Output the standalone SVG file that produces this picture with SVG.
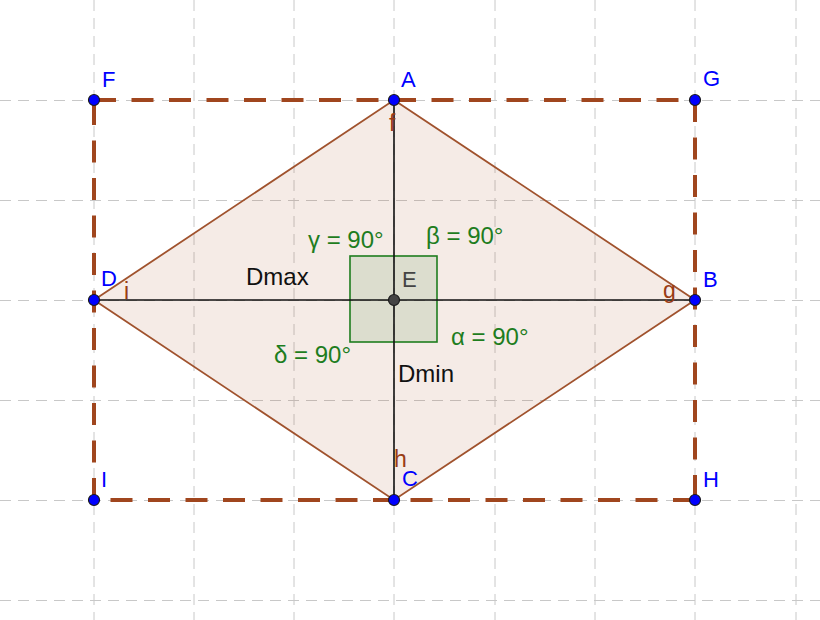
<svg xmlns="http://www.w3.org/2000/svg" width="820" height="620" viewBox="0 0 820 620">
<style>
.grid{stroke:#c8c8c8;stroke-width:1;stroke-dasharray:11 7;fill:none}
.rect{stroke:#a0461e;stroke-width:4;stroke-dasharray:22 15.5;fill:none}
.pt{fill:#0000ff;stroke:#1a1a1a;stroke-width:1.2}
.lbl{font-family:"Liberation Sans",Arial,sans-serif;font-size:22px;fill:#0000ff}
.sm{font-family:"Liberation Sans",Arial,sans-serif;font-size:23px;fill:#993c14}
.ang{font-family:"Liberation Sans",Arial,sans-serif;font-size:24px;fill:#1e7d1e}
.blk{font-family:"Liberation Sans",Arial,sans-serif;font-size:24px;fill:#111}
</style>
<rect width="820" height="620" fill="#ffffff"/>
<g id="grid">
<line class="grid" x1="94" y1="0" x2="94" y2="620"/>
<line class="grid" x1="194" y1="0" x2="194" y2="620"/>
<line class="grid" x1="294" y1="0" x2="294" y2="620"/>
<line class="grid" x1="394" y1="0" x2="394" y2="620"/>
<line class="grid" x1="495" y1="0" x2="495" y2="620"/>
<line class="grid" x1="595" y1="0" x2="595" y2="620"/>
<line class="grid" x1="695" y1="0" x2="695" y2="620"/>
<line class="grid" x1="796" y1="0" x2="796" y2="620"/>
<line class="grid" x1="0" y1="100.5" x2="820" y2="100.5"/>
<line class="grid" x1="0" y1="200.5" x2="820" y2="200.5"/>
<line class="grid" x1="0" y1="300.5" x2="820" y2="300.5"/>
<line class="grid" x1="0" y1="400.5" x2="820" y2="400.5"/>
<line class="grid" x1="0" y1="500.5" x2="820" y2="500.5"/>
<line class="grid" x1="0" y1="600.5" x2="820" y2="600.5"/>
</g>
<g id="rhombus">
<polygon points="394,100 695,300 394,500 94,300" fill="#a0461e" fill-opacity="0.11" stroke="#a0522d" stroke-width="1.8"/>
</g>
<g id="right-angle">
<rect x="350" y="256" width="87" height="86" fill="#006400" fill-opacity="0.1" stroke="#1e7d1e" stroke-width="1.6"/>
</g>
<g id="connectors">
<line class="rect" x1="94" y1="100" x2="695" y2="100"/>
<line class="rect" x1="695" y1="100" x2="695" y2="500"/>
<line class="rect" x1="695" y1="500" x2="94" y2="500"/>
<line class="rect" x1="94" y1="500" x2="94" y2="100"/>
<line x1="94" y1="300" x2="695" y2="300" stroke="#111" stroke-width="1.6"/>
<line x1="394" y1="100" x2="394" y2="500" stroke="#111" stroke-width="1.6"/>
</g>
<g id="texts">
<text class="sm" x="389" y="131">f</text>
<text class="sm" x="124" y="299">i</text>
<text class="sm" x="663" y="298">g</text>
<text class="sm" x="394" y="467">h</text>
<text class="blk" x="246" y="285">Dmax</text>
<text class="blk" x="398" y="382">Dmin</text>
<text class="ang" x="308" y="248">γ = 90°</text>
<text class="ang" x="426" y="244">β = 90°</text>
<text class="ang" x="451" y="345">α = 90°</text>
<text class="ang" x="274" y="363">δ = 90°</text>
</g>
<g id="F"><circle class="pt" cx="94" cy="100" r="5.5"/><text class="lbl" x="102" y="87">F</text></g>
<g id="A"><circle class="pt" cx="394" cy="100" r="5.5"/><text class="lbl" x="401" y="87">A</text></g>
<g id="G"><circle class="pt" cx="695" cy="100" r="5.5"/><text class="lbl" x="703" y="86">G</text></g>
<g id="D"><circle class="pt" cx="94" cy="300" r="5.5"/><text class="lbl" x="101" y="286">D</text></g>
<g id="B"><circle class="pt" cx="695" cy="300" r="5.5"/><text class="lbl" x="703" y="287">B</text></g>
<g id="I"><circle class="pt" cx="94" cy="500" r="5.5"/><text class="lbl" x="101" y="487">I</text></g>
<g id="C"><circle class="pt" cx="394" cy="500" r="5.5"/><text class="lbl" x="402" y="486">C</text></g>
<g id="H"><circle class="pt" cx="695" cy="500" r="5.5"/><text class="lbl" x="703" y="487">H</text></g>
<g id="E"><circle cx="394" cy="300" r="5.5" fill="#444" stroke="#1a1a1a" stroke-width="1.2"/><text x="402" y="287" font-family="Liberation Sans, Arial, sans-serif" font-size="22" fill="#444">E</text></g>
</svg>
